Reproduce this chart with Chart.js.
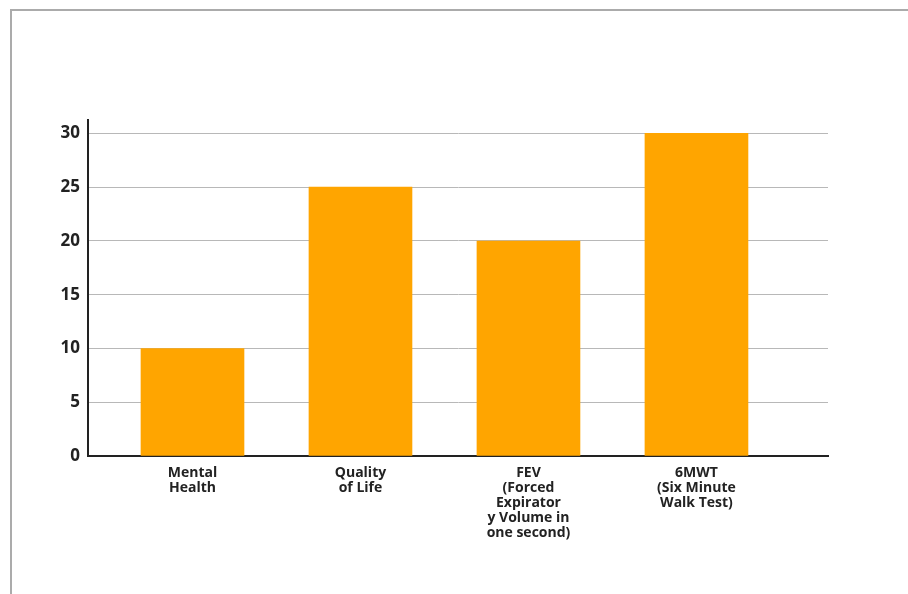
<!DOCTYPE html>
<html>
<head>
<meta charset="utf-8">
<script src="https://cdn.jsdelivr.net/npm/chart.js@4.4.1/dist/chart.umd.min.js"></script>
<style>
  html, body { margin: 0; padding: 0; background: #fff; overflow: hidden; }
  body { width: 908px; height: 594px; position: relative; }
  .frame {
    position: absolute; left: 10px; top: 9px; width: 920px; height: 620px;
    border-left: 2px solid #ababab; border-top: 2px solid #ababab;
  }
  #wrap { position: absolute; left: 0; top: 0; width: 908px; height: 594px; }
</style>
</head>
<body>
<div class="frame"></div>
<div id="wrap"><canvas id="chart" width="908" height="594"></canvas></div>
<script>
// Outcome categories (multi-line labels as printed under each bar)
const categories = [
  ["Mental", "Health"],
  ["Quality", "of Life"],
  ["FEV", "(Forced", "Expirator", "y Volume in", "one second)"],
  ["6MWT", "(Six Minute", "Walk Test)"]
];
// Bar heights
const values = [10, 25, 20, 30];
// Value-axis tick labels
const yTicks = [0, 5, 10, 15, 20, 25, 30];

const barColor = "#FFA500";
const fontFamily = "'Open Sans', 'DejaVu Sans', sans-serif";

const data = {
  datasets: [{
    data: values.map((v, i) => ({ x: i, y: v })),
    backgroundColor: barColor,
    borderWidth: 0,
    barThickness: 103
  }]
};

new Chart(document.getElementById("chart"), {
  type: "bar",
  data,
  options: {
    responsive: false,
    animation: false,
    devicePixelRatio: 1,
    layout: { padding: { left: 0, right: 80, top: 120, bottom: 0 } },
    plugins: { legend: { display: false }, tooltip: { enabled: false } },
    scales: {
      x: {
        type: "linear",
        offset: false,
        min: -0.622,
        max: 3.783,
        afterBuildTicks: s => { s.ticks = categories.map((_, i) => ({ value: i })); },
        afterFit: s => { s.height = 138; },
        grid: { display: false, drawTicks: false },
        border: { display: true, color: "#222", width: 2 },
        ticks: {
          autoSkip: false,
          maxRotation: 0,
          padding: 9,
          color: "#222",
          font: { family: fontFamily, size: 14, weight: "700", lineHeight: 1.08 },
          callback: v => categories[v]
        }
      },
      y: {
        min: 0,
        max: 31.25,
        afterBuildTicks: s => { s.ticks = yTicks.map(v => ({ value: v })); },
        afterFit: s => { s.width = 88; },
        grid: { color: "#b8b8b8", lineWidth: 1, drawTicks: false },
        border: { display: true, color: "#222", width: 2 },
        ticks: {
          padding: 8,
          color: "#222",
          font: { family: fontFamily, size: 17, weight: "700" },
          callback: v => String(v)
        }
      }
    }
  }
});
</script>
</body>
</html>
